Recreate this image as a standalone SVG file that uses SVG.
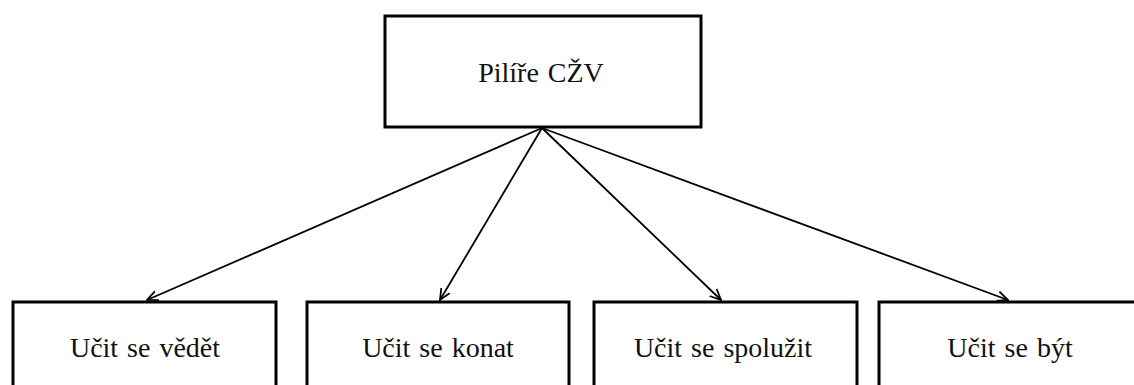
<svg xmlns="http://www.w3.org/2000/svg" width="1134" height="385" viewBox="0 0 1134 385">
<defs>
<style>
.box{fill:#fff;stroke:#000;stroke-width:3}
.lbl{font-family:"Liberation Serif","Times New Roman",serif;font-size:28px;word-spacing:2px;fill:#111;text-anchor:middle}
.conn{stroke:#000;stroke-width:1.8;fill:none}
</style>
<marker id="arr" viewBox="0 0 12 12" refX="11" refY="6" markerWidth="12" markerHeight="12" markerUnits="userSpaceOnUse" orient="auto">
<path d="M0,1 L11,6 L0,11" fill="none" stroke="#000" stroke-width="1.8"/>
</marker>
</defs>
<rect width="1134" height="385" fill="#fff"/>
<g id="connectors">
<line class="conn" x1="542" y1="128" x2="147" y2="300" marker-end="url(#arr)"/>
<line class="conn" x1="542" y1="128" x2="440" y2="300" marker-end="url(#arr)"/>
<line class="conn" x1="542" y1="128" x2="721" y2="300" marker-end="url(#arr)"/>
<line class="conn" x1="542" y1="128" x2="1008" y2="300" marker-end="url(#arr)"/>
</g>
<g id="root">
<rect class="box" x="385" y="16" width="316" height="111"/>
<text class="lbl" x="541" y="82">Pilíře CŽV</text>
</g>
<g id="n1">
<rect class="box" x="13" y="302" width="263" height="100"/>
<text class="lbl" x="145" y="357">Učit se vědět</text>
</g>
<g id="n2">
<rect class="box" x="307" y="302" width="262" height="100"/>
<text class="lbl" x="438" y="357">Učit se konat</text>
</g>
<g id="n3">
<rect class="box" x="594" y="302" width="263" height="100"/>
<text class="lbl" x="723" y="357">Učit se spolužit</text>
</g>
<g id="n4">
<rect class="box" x="879" y="302" width="280" height="100"/>
<text class="lbl" x="1010" y="357">Učit se být</text>
</g>
</svg>
